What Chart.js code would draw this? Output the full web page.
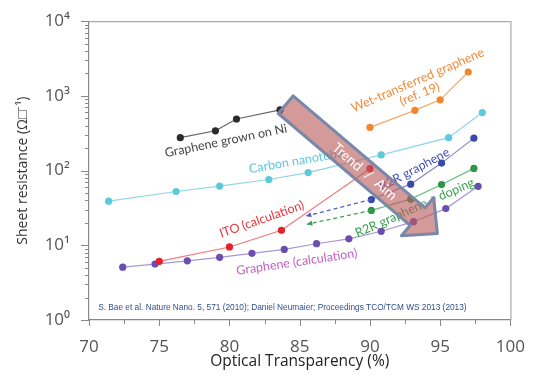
<!DOCTYPE html>
<html>
<head>
<meta charset="utf-8">
<script src="https://cdn.jsdelivr.net/npm/chart.js@4"></script>
<style>
  html, body { margin:0; padding:0; background:#fff; }
  #wrap { width:534px; height:377px; }
</style>
</head>
<body>
<div id="wrap"><canvas id="chart"></canvas></div>
<script>
// ---- data ----
const niX   = [76.5, 79.0, 80.5, 83.6];
const niY   = [276, 341, 491, 649];

const cntX  = [71.4, 76.2, 79.3, 82.8, 85.6, 90.8, 95.6, 98.0];
const cntY  = [39, 52.5, 62, 76, 94, 162, 276, 598];

const wetX  = [90.0, 93.2, 95.0, 97.0];
const wetY  = [379, 641, 886, 2088];

const itoX  = [75.0, 80.0, 83.7, 90.0];
const itoY  = [6.1, 9.5, 15.9, 106];

const calcX = [72.4, 74.7, 77.0, 79.3, 81.6, 83.9, 86.2, 88.5, 90.8, 93.1, 95.4, 97.7];
const calcY = [5.1, 5.6, 6.2, 6.9, 7.8, 8.8, 10.5, 12.2, 15.4, 20.7, 31, 61.6];

const r2rX  = [90.1, 92.9, 95.1, 97.4];
const r2rY  = [41, 65.8, 126, 272];

const dopX  = [90.1, 92.9, 95.1, 97.4];
const dopY  = [29.3, 41.5, 65, 107];

const xTickLabels = ["70", "75", "80", "85", "90", "95", "100"];
const yTickLabels = ["10\u2070", "10\u00b9", "10\u00b2", "10\u00b3", "10\u2074"];

// annotations (data coordinates)
const seriesLabels = [
  { text: "Graphene grown on Ni", x: 79.75, y: 250, rot: -11.6, color: "#444" },
  { text: "Carbon nanotube", x: 84.75, y: 134, rot: -9.9, color: "#5cc6dc" },
  { text: "Wet-transferred graphene", x: 93.4, y: 1622, rot: -23.4, color: "#f08a3c" },
  { text: "(ref. 19)", x: 93.54, y: 1062, rot: -22.5, color: "#f08a3c" },
  { text: "ITO (calculation)", x: 82.3, y: 22.3, rot: -19.3, color: "#e8343a" },
  { text: "Graphene (calculation)", x: 84.8, y: 5.97, rot: -8.4, color: "#c061c0" },
  { text: "R2R graphene", x: 93.17, y: 104, rot: -27.9, color: "#4452b0" },
  { text: "R2R graphene + doping", x: 93.19, y: 31.8, rot: -23.9, color: "#38a050" }
];
const dashArrows = [
  { from: [90.1, 41], to: [85.44, 24.6], color: "#5560c0" },
  { from: [90.1, 29.3], to: [85.51, 19.1], color: "#3ea055" }
];
const trendArrow = { from: [84.0, 762], to: [94.8, 14.4], text: "Trend  /  Aim" };
const citation = { text: "S. Bae et al. Nature Nano. 5, 571 (2010); Daniel Neumaier; Proceedings TCO/TCM WS 2013 (2013)", x: 70.65, y: 1.44 };

function serie(label, xs, ys, line, dot) {
  return {
    label,
    data: xs.map((x, i) => ({ x, y: ys[i] })),
    borderColor: line,
    backgroundColor: dot,
    pointBackgroundColor: dot,
    pointBorderColor: dot,
    pointRadius: 3.6,
    pointBorderWidth: 0,
    borderWidth: 1.2,
    tension: 0
  };
}

const datasets = [
  serie("Graphene grown on Ni", niX, niY, "#666", "#2b2b2b"),
  serie("Carbon nanotube", cntX, cntY, "#8fd6e6", "#5ec8dd"),
  serie("Wet-transferred graphene", wetX, wetY, "#f5a868", "#f0862e"),
  serie("ITO", itoX, itoY, "#f07a7a", "#e8202a"),
  serie("Graphene calculation", calcX, calcY, "#a898d8", "#6a4fae"),
  serie("R2R graphene", r2rX, r2rY, "#8088cc", "#3a48a8"),
  serie("R2R graphene + doping", dopX, dopY, "#6cbc80", "#2e9648")
];

const decorPlugin = {
  id: "decor",
  beforeDraw(chart) {
    const { ctx } = chart;
    ctx.save();
    ctx.fillStyle = "#fff";
    ctx.fillRect(0, 0, chart.width, chart.height);
    ctx.restore();
  },
  afterDatasetsDraw(chart) {
    const { ctx, chartArea: a } = chart;
    const xs = chart.scales.x, ys = chart.scales.y;
    const px = v => xs.getPixelForValue(v), py = v => ys.getPixelForValue(v);

    ctx.save();
    // frame top & right
    ctx.strokeStyle = "#aaa";
    ctx.lineWidth = 1.2;
    ctx.beginPath();
    ctx.moveTo(a.left, a.top + 0.5);
    ctx.lineTo(a.right + 0.5, a.top + 0.5);
    ctx.lineTo(a.right + 0.5, a.bottom);
    ctx.stroke();

    // tick marks
    ctx.strokeStyle = "#888";
    ctx.lineWidth = 1;
    ys.ticks.forEach(t => {
      const y = Math.round(py(t.value)) + 0.5;
      ctx.beginPath();
      ctx.moveTo(a.left, y);
      ctx.lineTo(a.left - (t.major ? 8 : 4), y);
      ctx.stroke();
    });
    xs.ticks.forEach(t => {
      const x = Math.round(px(t.value)) + 0.5;
      ctx.beginPath();
      ctx.moveTo(x, a.bottom);
      ctx.lineTo(x, a.bottom + (t.value % 5 === 0 ? 6 : 4));
      ctx.stroke();
    });

    // series labels
    ctx.font = "12.5px Lato, 'Open Sans', sans-serif";
    ctx.textAlign = "center";
    ctx.textBaseline = "middle";
    seriesLabels.forEach(l => {
      ctx.save();
      ctx.translate(px(l.x), py(l.y));
      ctx.rotate(l.rot * Math.PI / 180);
      ctx.fillStyle = l.color;
      ctx.fillText(l.text, 0, 0);
      ctx.restore();
    });

    // dashed arrows
    dashArrows.forEach(d => {
      const x1 = px(d.from[0]), y1 = py(d.from[1]);
      const x2 = px(d.to[0]), y2 = py(d.to[1]);
      ctx.strokeStyle = d.color;
      ctx.fillStyle = d.color;
      ctx.lineWidth = 1.3;
      ctx.setLineDash([4, 3]);
      ctx.beginPath();
      ctx.moveTo(x1, y1);
      ctx.lineTo(x2, y2);
      ctx.stroke();
      ctx.setLineDash([]);
      const ang = Math.atan2(y2 - y1, x2 - x1);
      ctx.beginPath();
      ctx.moveTo(x2, y2);
      ctx.lineTo(x2 - 6 * Math.cos(ang - 0.45), y2 - 6 * Math.sin(ang - 0.45));
      ctx.lineTo(x2 - 6 * Math.cos(ang + 0.45), y2 - 6 * Math.sin(ang + 0.45));
      ctx.closePath();
      ctx.fill();
    });

    // citation
    ctx.font = "8.3px 'Liberation Sans', Arial, sans-serif";
    ctx.fillStyle = "#2f4f8f";
    ctx.textAlign = "left";
    ctx.fillText(citation.text, px(citation.x), py(citation.y));

    // big trend arrow
    const tx = px(trendArrow.from[0]), ty = py(trendArrow.from[1]);
    const hx = px(trendArrow.to[0]), hy = py(trendArrow.to[1]);
    const len = Math.hypot(hx - tx, hy - ty);
    const ang = Math.atan2(hy - ty, hx - tx);
    const sw = 11.5, hw = 25, hl = 26;
    ctx.save();
    ctx.translate(tx, ty);
    ctx.rotate(ang);
    ctx.beginPath();
    ctx.moveTo(0, -sw);
    ctx.lineTo(len - hl, -sw);
    ctx.lineTo(len - hl, -hw);
    ctx.lineTo(len, 0);
    ctx.lineTo(len - hl, hw);
    ctx.lineTo(len - hl, sw);
    ctx.lineTo(0, sw);
    ctx.closePath();
    ctx.fillStyle = "rgba(185,90,90,0.62)";
    ctx.fill();
    ctx.lineJoin = "round";
    ctx.lineWidth = 3;
    ctx.strokeStyle = "#7888a8";
    ctx.stroke();
    ctx.fillStyle = "#fff";
    ctx.font = "14px Lato, 'Open Sans', sans-serif";
    ctx.textAlign = "center";
    ctx.textBaseline = "middle";
    ctx.fillText(trendArrow.text, len * 0.52, 0);
    ctx.restore();

    ctx.restore();
  }
};

new Chart(document.getElementById("chart"), {
  type: "line",
  data: { datasets },
  plugins: [decorPlugin],
  options: {
    responsive: true,
    maintainAspectRatio: false,
    animation: false,
    layout: { padding: { top: 16, right: 19, left: 0, bottom: 0 } },
    plugins: { legend: { display: false }, tooltip: { enabled: false } },
    scales: {
      x: {
        type: "linear",
        min: 70, max: 100,
        grid: { display: false },
        border: { display: true, color: "#888", width: 1.2 },
        ticks: {
          stepSize: 2.5,
          autoSkip: false,
          maxRotation: 0,
          padding: 9,
          color: "#555",
          font: { family: "'Open Sans', sans-serif", size: 17 },
          callback: v => (v % 5 === 0 ? xTickLabels[(v - 70) / 5] : "")
        },
        title: {
          display: true,
          text: "Optical Transparency (%)",
          color: "#222",
          font: { family: "'Open Sans', sans-serif", size: 15.5 },
          padding: { top: 0, bottom: 6 }
        },
        afterFit: s => { s.height = 57; }
      },
      y: {
        type: "logarithmic",
        min: 1, max: 10000,
        grid: { display: false },
        border: { display: true, color: "#888", width: 1.2 },
        afterBuildTicks: s => {
          const t = [];
          for (let e = 0; e < 4; e++) {
            for (let m = 1; m < 10; m++) t.push({ value: m * Math.pow(10, e), major: m === 1 });
          }
          t.push({ value: 10000, major: true });
          s.ticks = t;
        },
        ticks: {
          autoSkip: false,
          padding: 11,
          color: "#555",
          font: { family: "'Open Sans', sans-serif", size: 17 },
          callback: v => {
            const e = Math.log10(v);
            return Math.abs(e - Math.round(e)) < 1e-9 ? yTickLabels[Math.round(e)] : "";
          }
        },
        title: {
          display: true,
          text: "Sheet resistance (\u03a9\u25a1\u207b\u00b9)",
          color: "#333",
          font: { family: "'Open Sans', sans-serif", size: 14 },
          padding: { top: 15, bottom: 0 }
        },
        afterFit: s => { s.width = 89; }
      }
    }
  }
});
</script>
</body>
</html>
